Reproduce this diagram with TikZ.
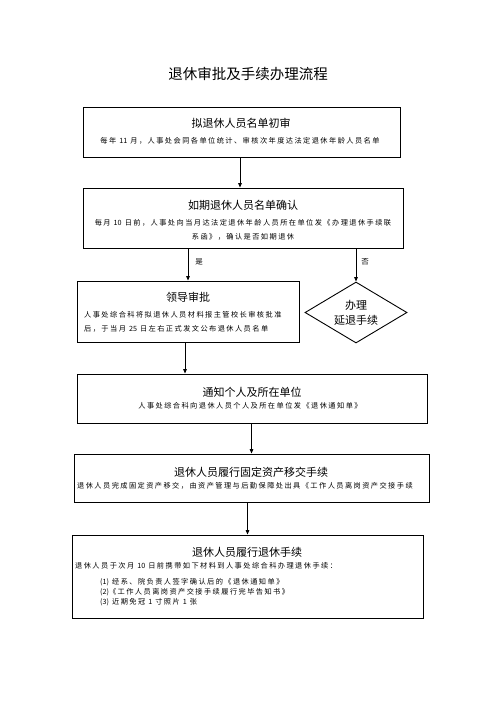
\documentclass[tikz,border=0pt]{standalone}
\usepackage{fontspec}
\setmainfont{Noto Sans CJK SC}
\newfontfamily\tfont{Noto Sans CJK SC}
\newfontfamily\bfont[LetterSpace=20]{Noto Sans CJK SC}
\newcommand\dgt[1]{{\tfont #1}}
\usetikzlibrary{shapes.geometric,arrows.meta}
\begin{document}
\begin{tikzpicture}[x=1bp,y=-1bp,
  box/.style={draw, line width=0.9bp, inner sep=0, rectangle},
  ttl/.style={font=\tfont\fontsize{11bp}{15bp}\selectfont, inner sep=0},
  body/.style={font=\bfont\fontsize{7.2bp}{14bp}\selectfont, inner sep=0},
  lab/.style={font=\tfont\fontsize{7.5bp}{9bp}\selectfont, inner sep=0},
  arr/.style={-{Triangle[length=4.5bp,width=3.6bp]}, line width=0.8bp}]
\useasboundingbox[fill=white] (0,0) rectangle (496,702);

\node[font=\tfont\fontsize{14.5bp}{16bp}\selectfont, inner sep=0] (title) at (248,74) {退休审批及手续办理流程};

% box 1
\node[box, minimum width=317bp, minimum height=50bp] (b1) at (241.5,132) {};
\node[ttl] (t1) at (241,123) {拟退休人员名单初审};
\node[body] (d1) at (240,141) {每年 \dgt{11} 月，人事处会同各单位统计、审核次年度达法定退休年龄人员名单};

% box 2
\node[box, minimum width=320bp, minimum height=60bp] (b2) at (243,218) {};
\node[ttl] (t2) at (243,205) {如期退休人员名单确认};
\node[body, align=center] (d2) at (243,230) {每月 \dgt{10} 日前，人事处向当月达法定退休年龄人员所在单位发《办理退休手续联\\系函》，确认是否如期退休};

% box 3
\node[box, minimum width=222bp, minimum height=61bp] (b3) at (188,311.5) {};
\node[ttl] (t3) at (188,297) {领导审批};
\node[body, align=left, anchor=west] (d3) at (84,321.5) {人事处综合科将拟退休人员材料报主管校长审核批准\\后，于当月 \dgt{25} 日左右正式发文公布退休人员名单};

% diamond
\node[diamond, draw, line width=0.9bp, aspect=1.67, inner sep=0, minimum width=102bp, minimum height=61bp, align=center, font=\tfont\fontsize{11bp}{15bp}\selectfont] (dm) at (356,312.5) {办理\\延退手续};

% box 4
\node[box, minimum width=350bp, minimum height=49bp] (b4) at (252,398.5) {};
\node[ttl] (t4) at (252,392) {通知个人及所在单位};
\node[body] (d4) at (250,406) {人事处综合科向退休人员个人及所在单位发《退休通知单》};

% box 5
\node[box, minimum width=355bp, minimum height=48bp] (b5) at (251.5,478) {};
\node[ttl] (t5) at (251,472) {退休人员履行固定资产移交手续};
\node[body, anchor=west] (d5) at (77,486) {退休人员完成固定资产移交，由资产管理与后勤保障处出具《工作人员离岗资产交接手续};

% box 6
\node[box, minimum width=351bp, minimum height=83bp] (b6) at (247.5,576.5) {};
\node[ttl] (t6) at (247,552) {退休人员履行退休手续};
\node[body, anchor=west] (d6a) at (75,566) {退休人员于次月 \dgt{10} 日前携带如下材料到人事处综合科办理退休手续：};
\node[body, anchor=west] (d6b) at (100,582) {\dgt{(1)} 经系、院负责人签字确认后的《退休通知单》};
\node[body, anchor=west] (d6c) at (100,592) {\dgt{(2)}《工作人员离岗资产交接手续履行完毕告知书》};
\node[body, anchor=west] (d6d) at (100,602) {\dgt{(3)} 近期免冠 \dgt{1} 寸照片 \dgt{1} 张};

% connectors
\draw[arr] ([xshift=-1.5bp]b1.south) -- ([xshift=-1.5bp]b1.south |- b2.north);
\draw[arr] (b2.south -| b3.north) -- (b3.north);
\draw[arr] (b2.south -| dm.north) -- (dm.north);
\node[lab] (yes) at (199,262) {是};
\node[lab] (no) at (365,262) {否};
\draw[arr] ([xshift=-3bp]b3.south) -- ([xshift=-3bp]b3.south |- b4.north);
\draw[arr] (b4.south -| b5.north) -- (b5.north);
\draw[arr] (b5.south -| b6.north) -- (b6.north);
\end{tikzpicture}
\end{document}
